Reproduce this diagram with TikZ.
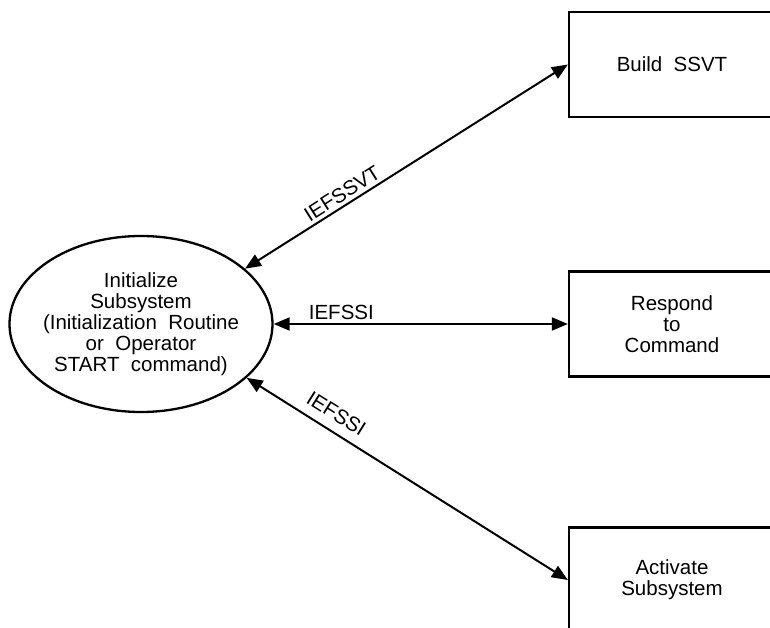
\documentclass[tikz,border=0pt]{standalone}
\usepackage{fontspec}
\setmainfont{Liberation Sans}
\usetikzlibrary{arrows.meta}
\usetikzlibrary{shapes.geometric}
\tikzstyle{link} = [draw, line width=2pt, {Triangle[length=16pt,width=13pt]}-{Triangle[length=16pt,width=13pt]}]
\tikzstyle{task} = [draw, line width=2.3pt, minimum width=206pt, minimum height=105pt, align=center, inner sep=0pt]

\begin{document}
\begin{tikzpicture}[x=1pt, y=-1pt, font={\fontsize{20.5}{21}\selectfont}]
    \clip (0,0) rectangle (770,628);
    \node[ellipse, draw, line width=2.3pt, minimum width=263pt, minimum height=176pt,
      label={[align=center]center:Initialize\\Subsystem\\(Initialization\ \ Routine\\or\ \ Operator\\START\ \ command)}] (init) at (141,324) {};
    \node[task] (ssvt) at (672,64.5) {Build\ \ SSVT};
    \node[task] (cmd) at (672,324) {Respond\\to\\Command};
    \node[task] (act) at (672,580) {Activate\\Subsystem};
    \draw
      (init.28) edge[link] node[sloped, above, pos=0.32] {IEFSSVT} (ssvt.west)
      (init.east) edge[link] node[above, pos=0.23] {IEFSSI} (cmd.west)
      (init.-27) edge[link] node[sloped, above=6pt, pos=0.25] {IEFSSI} (act.west)
    ;
\end{tikzpicture}
\end{document}
